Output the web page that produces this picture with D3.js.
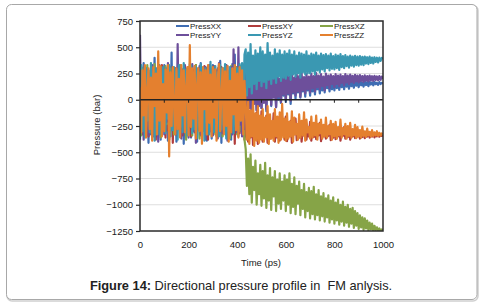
<!DOCTYPE html>
<html><head><meta charset="utf-8">
<script src="https://cdn.jsdelivr.net/npm/d3@7/dist/d3.min.js"></script>
<style>
html,body{margin:0;padding:0;background:#fff;}
svg{display:block;font-family:"Liberation Sans",Arial,sans-serif;}
</style></head>
<body><svg id="c" width="484" height="308"></svg>
<script>
// time axis: 0..1000 ps, step 5 ps
const times = d3.range(0, 1001, 5);
const xTicks = [0, 200, 400, 600, 800, 1000];
const yTicks = [750, 500, 250, 0, -250, -500, -750, -1000, -1250];
const seriesNames = ["PressXX", "PressXY", "PressXZ", "PressYY", "PressYZ", "PressZZ"];
const seriesColors = ["#3f6db3", "#b03c3c", "#86a447", "#6d4f9b", "#3a98b2", "#e4802f"];

const pressXX = [
-380,310,-250,350,-100,-300,280,-410,200,-330,300,-240,400,-350,170,-290,330,-380,260,-150,
330,-300,250,-390,310,-200,450,-350,120,300,-400,270,-280,320,-180,290,-420,230,-330,300,
-200,340,-360,280,-250,320,-150,-400,300,-280,350,-340,190,-300,310,-390,260,-230,300,-370,
330,-280,230,-350,300,-160,370,-410,220,-300,290,-340,320,-200,280,-380,340,-260,430,-320,
240,-350,290,-300,320,-260,250,
320,-120,250,-60,290,-150,210,20,270,-100,230,-40,260,
-80,240,-20,220,-110,250,10,200,-60,230,30,210,-70,240,0,190,-30,220,40,180,
-20,230,50,200,-40,220,60,190,10,210,70,180,20,200,80,170,30,210,90,160,
40,200,80,180,50,195,100,170,60,190,90,175,70,200,110,165,80,185,100,170,
90,190,110,175,95,185,120,170,100,180,125,165,105,185,130,170,115,175,135,168,
120,178,138,165,125,175,140,168,130,172,145,165,138,170,148,162,142,168,150,160,
155];

const pressXY = [
-200,270,-330,180,-280,300,-120,-350,240,-290,310,-170,260,-380,150,-310,290,-240,330,-100,
280,-360,200,-290,320,-200,270,-410,130,300,-320,250,-260,310,-150,-340,220,290,-300,180,
-270,300,-350,110,280,-310,330,-180,-290,260,-340,200,-250,320,-130,300,-380,230,-300,120,
-280,320,-220,270,-340,150,-300,310,-240,280,-130,330,-360,210,-280,300,-190,260,-420,310,
-150,290,-320,220,-260,300,-380,
-290,-80,-400,-150,-360,-40,-430,-190,-330,-120,-420,-210,-370,
-110,-400,-220,-340,-150,-410,-190,-370,-230,-330,-130,-400,-250,-360,-170,-390,-220,-320,-280,-380,
-160,-395,-240,-350,-200,-410,-260,-330,-180,-385,-250,-360,-220,-400,-270,-340,-200,-380,-290,-350,
-210,-390,-270,-355,-230,-375,-290,-340,-220,-395,-280,-350,-250,-370,-300,-345,-240,-385,-290,-360,
-250,-375,-300,-350,-270,-390,-305,-345,-260,-370,-310,-355,-280,-380,-315,-350,-290,-365,-320,-350,
-295,-370,-320,-355,-305,-365,-325,-350,-310,-360,-330,-350,-320,-358,-332,-348,-325,-352,-335,-345,
-338];

const pressXZ = [
200,-340,300,-150,270,-300,330,-250,150,-310,280,-200,340,-330,240,-120,300,-360,210,290,
-280,320,-230,260,-350,300,-100,280,-330,240,-290,310,-170,330,-300,200,-260,290,-380,250,
310,-220,280,-340,180,-290,330,-250,300,-370,260,-150,310,-300,230,-330,290,-200,320,-280,
-240,300,-330,260,-180,330,-290,210,-350,300,-210,280,-310,250,-370,320,-200,290,-260,310,
-330,250,-300,320,-230,200,-380,
-470,-820,-560,-900,-520,-980,-640,-860,-580,-1000,-700,-900,-620,
-1010,-680,-940,-600,-1030,-720,-960,-650,-1050,-740,-920,-680,-1060,-760,-990,-700,-1040,-780,-960,-720,
-1060,-760,-1000,-700,-1080,-800,-1020,-740,-1090,-820,-990,-780,-1100,-860,-1040,-800,-1120,-880,-1060,-840,
-1130,-870,-1090,-830,-1140,-900,-1100,-860,-1150,-920,-1110,-890,-1160,-940,-1120,-910,-1170,-960,-1140,-930,
-1180,-980,-1150,-950,-1190,-1000,-1160,-970,-1200,-1020,-1170,-1000,-1210,-1040,-1180,-1030,-1220,-1060,-1200,-1080,
-1230,-1100,-1215,-1120,-1240,-1130,-1225,-1150,-1245,-1170,-1235,-1180,-1250,-1200,-1240,-1215,-1250,-1225,-1248,-1235,
-1245];

const pressYY = [
620,-300,250,-380,310,-120,280,-340,190,-260,330,-350,230,-180,300,-400,160,310,-290,240,
-330,290,-210,350,-380,200,-290,310,-160,260,-340,530,-250,300,-370,210,-300,330,-220,280,
-360,300,-180,340,-300,250,-410,290,-140,320,-330,270,-260,310,-380,220,-200,330,-300,260,
-340,310,-230,280,-370,350,-160,300,-320,240,-280,330,-390,200,-250,310,-330,480,-290,260,
-310,500,-240,300,-350,200,-280,
250,-150,200,-80,260,-120,180,-40,240,-100,210,-60,230,
-80,250,-30,210,-90,260,0,200,-50,240,20,230,-70,250,30,200,-20,240,50,215,
10,245,60,220,-10,250,70,210,40,240,80,225,30,255,90,215,60,245,100,220,
70,250,110,225,80,255,120,230,100,245,130,220,90,250,140,230,110,240,150,225,
120,245,150,230,130,240,160,225,140,245,165,230,150,240,170,228,160,238,175,230,
165,235,178,225,170,232,182,226,175,230,185,224,180,228,188,222,185,225,190,220,
200];

const pressYZ = [
-250,330,-300,220,-360,300,-200,280,-310,350,-150,260,-390,300,-240,320,-330,190,-270,310,
260,-320,300,-180,330,-350,240,-290,310,-200,280,-380,330,-260,220,-310,350,-150,290,-340,
300,-250,330,-320,210,-280,310,-360,270,-190,340,-300,250,-390,300,-220,280,-330,360,-250,
290,-310,320,-200,260,-350,330,-280,300,-240,340,-370,270,-300,310,-180,290,-320,330,-260,
300,-300,340,-200,350,-150,430,
480,40,450,120,530,60,420,150,470,100,440,180,500,
130,460,170,430,110,540,190,450,150,420,200,480,160,440,220,470,180,430,210,460,
200,440,230,470,190,430,240,460,220,420,250,450,210,440,260,430,240,460,250,420,
250,440,270,430,240,450,280,420,260,440,290,425,270,435,300,420,280,440,295,415,
290,430,300,420,285,435,310,415,300,425,320,410,305,420,325,412,315,418,330,410,
325,415,335,408,330,412,345,405,340,410,350,402,345,405,360,400,355,402,370,398,
390];

const pressZZ = [
120,-310,280,-150,330,-360,90,300,-280,210,-390,310,-60,250,-330,460,-200,320,-350,150,
-300,290,-120,330,-540,260,-250,310,-40,-330,300,-280,200,-360,330,-150,280,-310,120,310,
-340,520,-260,300,-180,320,-370,140,300,-300,260,-420,310,-90,280,-330,330,-220,240,-350,
310,-170,290,-390,200,340,-300,60,300,-330,270,-250,320,-400,180,-310,300,-140,330,-290,
250,-360,310,-200,280,-330,180,
-60,-380,-20,-420,-100,-350,-10,-440,-130,-390,-60,-410,-150,
-380,-90,-400,-170,-360,-60,-420,-140,-370,-200,-390,-90,-350,-160,-410,-120,-380,-40,-360,-180,
-390,-130,-370,-210,-350,-110,-400,-170,-330,-230,-380,-140,-360,-200,-340,-120,-390,-190,-310,-260,
-370,-160,-360,-220,-340,-150,-380,-230,-320,-190,-370,-240,-350,-170,-360,-250,-330,-200,-380,-230,
-350,-210,-370,-260,-340,-190,-360,-270,-330,-230,-370,-250,-345,-220,-360,-280,-340,-240,-365,-260,
-350,-290,-360,-255,-345,-300,-355,-275,-340,-305,-350,-290,-345,-310,-340,-300,-345,-315,-340,-320,
-330];

const seriesValues = [pressXX, pressXY, pressXZ, pressYY, pressYZ, pressZZ];

const svg = d3.select("#c");
const L = 140, R = 383, T = 21, B = 231;
const x = d3.scaleLinear().domain([0, 1000]).range([L, R]);
const y = d3.scaleLinear().domain([-1250, 750]).range([B, T]);

// outer frame
svg.append("rect").attr("x", 7).attr("y", 5.5).attr("width", 471).attr("height", 295.5)
  .attr("rx", 5).attr("fill", "none").attr("stroke", "#d0d0d0").attr("stroke-width", 1.5);
svg.append("rect").attr("x", 6.5).attr("y", 4.5).attr("width", 470.5).attr("height", 295)
  .attr("rx", 5).attr("fill", "#fff").attr("stroke", "#a8a8a8").attr("stroke-width", 1);

// gridlines
svg.append("g").selectAll("line").data(yTicks.filter(v => v !== 0 && v !== 750 && v !== -1250))
  .join("line").attr("x1", L).attr("x2", R).attr("y1", d => y(d)).attr("y2", d => y(d))
  .attr("stroke", "#dedede").attr("stroke-width", 1);

// series
svg.append("defs").append("clipPath").attr("id", "clip")
  .append("rect").attr("x", L).attr("y", T).attr("width", R - L).attr("height", B - T);
const line = d3.line().x((d, i) => x(times[i])).y(d => y(d));
const g = svg.append("g").attr("clip-path", "url(#clip)");
seriesValues.forEach((vals, k) => {
  g.append("path").datum(vals).attr("d", line).attr("fill", "none")
    .attr("stroke", seriesColors[k]).attr("stroke-width", 2.2).attr("stroke-linejoin", "round");
});

// zero line with ticks
svg.append("line").attr("x1", L).attr("x2", R).attr("y1", y(0)).attr("y2", y(0))
  .attr("stroke", "#222").attr("stroke-width", 1.5);
svg.append("g").selectAll("line").data(d3.range(100, 1000, 100)).join("line")
  .attr("x1", d => x(d)).attr("x2", d => x(d)).attr("y1", y(0)).attr("y2", y(0) + 3)
  .attr("stroke", "#222").attr("stroke-width", 1);

// plot border
svg.append("rect").attr("x", L).attr("y", T).attr("width", R - L).attr("height", B - T)
  .attr("fill", "none").attr("stroke", "#2a2a2a").attr("stroke-width", 1.5);

// y axis
const yAxis = d3.axisLeft(y).tickValues(yTicks).tickFormat(d3.format("d")).tickSize(4).tickPadding(3);
const ya = svg.append("g").attr("transform", `translate(${L},0)`).call(yAxis);
ya.select(".domain").remove();
ya.selectAll("line").attr("stroke", "#2a2a2a").attr("stroke-width", 1.2);
ya.selectAll("text").attr("font-size", "9.5px").attr("fill", "#1a1a1a")
  .attr("font-family", "Liberation Sans, Arial, sans-serif");

// x axis labels (positioned low)
const xAxis = d3.axisBottom(x).tickValues(xTicks).tickFormat(d3.format("d")).tickSize(0).tickPadding(10);
const xa = svg.append("g").attr("transform", `translate(0,${B})`).call(xAxis);
xa.select(".domain").remove();
xa.selectAll("text").attr("font-size", "9.5px").attr("fill", "#1a1a1a")
  .attr("font-family", "Liberation Sans, Arial, sans-serif");

// axis titles
svg.append("text").attr("x", 261).attr("y", 266).attr("text-anchor", "middle")
  .attr("font-size", "9.5px").attr("fill", "#1a1a1a").text("Time (ps)");
svg.append("text").attr("transform", "translate(100,125) rotate(-90)").attr("text-anchor", "middle")
  .attr("font-size", "9.5px").attr("fill", "#1a1a1a").text("Pressure (bar)");

// legend
const legX = [176, 248, 320];
const lg = svg.append("g");
seriesNames.forEach((name, i) => {
  const col = i % 3, row = Math.floor(i / 3);
  const lx = legX[col], ly = 26 + row * 9;
  lg.append("line").attr("x1", lx).attr("x2", lx + 13).attr("y1", ly).attr("y2", ly)
    .attr("stroke", seriesColors[i]).attr("stroke-width", 2);
  lg.append("text").attr("x", lx + 14).attr("y", ly + 3).attr("font-size", "8px")
    .attr("fill", "#1a1a1a").text(name);
});

// caption
const cap = svg.append("text").attr("x", 241).attr("y", 290).attr("text-anchor", "middle")
  .attr("font-size", "12.8px").attr("fill", "#222");
cap.append("tspan").attr("font-weight", "bold").text("Figure 14:");
cap.append("tspan").attr("xml:space", "preserve").text(" Directional pressure profile in \u00a0FM anlysis.");
</script></body></html>
